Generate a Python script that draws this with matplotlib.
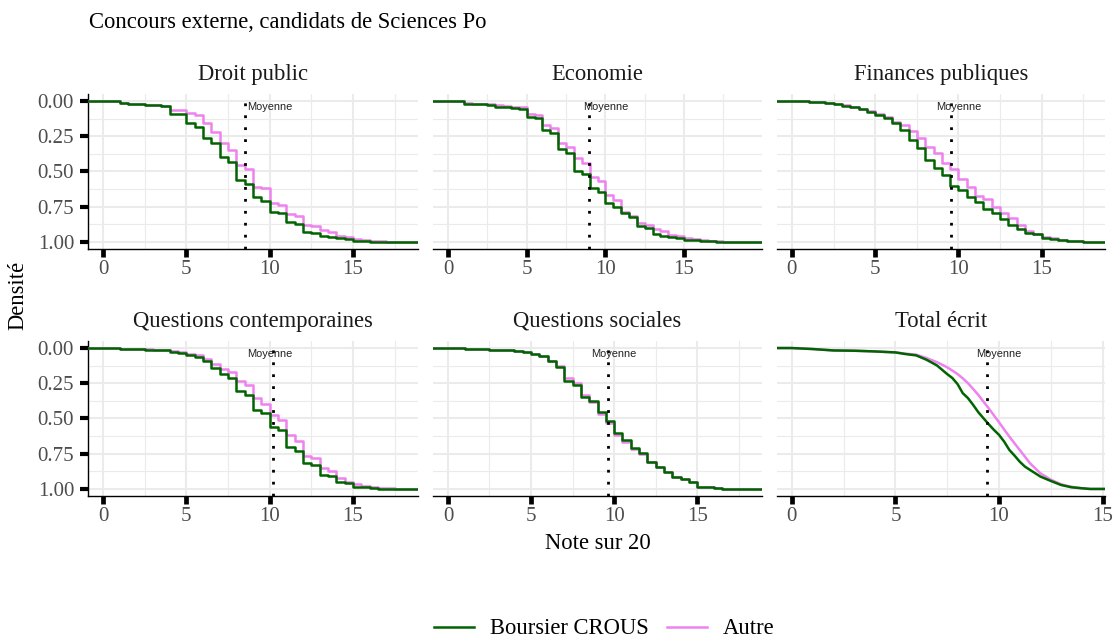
import numpy as np
import matplotlib
matplotlib.use("Agg")
import matplotlib.pyplot as plt
from matplotlib.lines import Line2D

plt.rcParams['font.family'] = ['Liberation Serif', 'DejaVu Serif']

# ---------------- data ----------------
subjects = ["Droit public", "Economie", "Finances publiques",
            "Questions contemporaines", "Questions sociales", "Total écrit"]
series_names = ["Boursier CROUS", "Autre"]
series_colors = ["#006400", "#EE82EE"]

notes = np.arange(0, 18.5, 0.5)  # half-point grades 0 .. 18

droit_boursier = [0.0, 0.002, 0.017, 0.019, 0.022, 0.026, 0.03, 0.034, 0.092, 0.095, 0.154, 0.182,
                  0.265, 0.30, 0.395, 0.43, 0.56, 0.59, 0.683, 0.71, 0.785, 0.797, 0.856, 0.872,
                  0.927, 0.938, 0.955, 0.962, 0.974, 0.979, 0.995, 0.996, 0.998, 0.999, 1.0, 1.0, 1.0]
droit_autre = [0.0, 0.002, 0.017, 0.019, 0.022, 0.025, 0.03, 0.034, 0.062, 0.066, 0.087, 0.10,
               0.158, 0.218, 0.30, 0.348, 0.454, 0.485, 0.61, 0.62, 0.726, 0.74, 0.80, 0.815,
               0.88, 0.89, 0.915, 0.927, 0.955, 0.962, 0.979, 0.983, 0.99, 0.993, 0.997, 0.999, 1.0]

eco_boursier = [0.0, 0.003, 0.021, 0.022, 0.023, 0.025, 0.04, 0.042, 0.052, 0.055, 0.11, 0.123,
                0.205, 0.225, 0.343, 0.366, 0.494, 0.518, 0.62, 0.643, 0.726, 0.749, 0.797, 0.825,
                0.89, 0.903, 0.943, 0.955, 0.967, 0.974, 0.986, 0.988, 0.993, 0.995, 0.997, 0.999, 1.0]
eco_autre = [0.0, 0.003, 0.017, 0.019, 0.021, 0.023, 0.03, 0.033, 0.04, 0.045, 0.092, 0.10,
             0.17, 0.194, 0.30, 0.324, 0.407, 0.437, 0.537, 0.565, 0.667, 0.702, 0.785, 0.816,
             0.868, 0.879, 0.91, 0.92, 0.95, 0.955, 0.974, 0.98, 0.986, 0.99, 0.995, 0.998, 1.0]

fin_boursier = [0.0, 0.003, 0.007, 0.01, 0.017, 0.024, 0.033, 0.045, 0.06, 0.076, 0.10, 0.123,
                0.158, 0.206, 0.277, 0.33, 0.418, 0.478, 0.525, 0.603, 0.631, 0.683, 0.714, 0.768,
                0.797, 0.84, 0.88, 0.91, 0.934, 0.943, 0.969, 0.976, 0.986, 0.99, 0.995, 0.998, 1.0]
fin_autre = [0.0, 0.003, 0.007, 0.01, 0.016, 0.022, 0.03, 0.042, 0.056, 0.07, 0.093, 0.115,
             0.147, 0.17, 0.21, 0.265, 0.324, 0.366, 0.437, 0.485, 0.556, 0.608, 0.674, 0.697,
             0.754, 0.792, 0.832, 0.88, 0.92, 0.943, 0.962, 0.972, 0.986, 0.99, 0.995, 0.998, 1.0]

qc_boursier = [0.0, 0.002, 0.005, 0.007, 0.009, 0.011, 0.013, 0.016, 0.028, 0.035, 0.047, 0.066,
               0.095, 0.142, 0.185, 0.213, 0.308, 0.332, 0.438, 0.462, 0.557, 0.58, 0.70, 0.73,
               0.818, 0.83, 0.90, 0.91, 0.95, 0.957, 0.983, 0.988, 0.995, 0.997, 1.0, 1.0, 1.0]
qc_autre = [0.0, 0.002, 0.004, 0.006, 0.008, 0.01, 0.012, 0.015, 0.02, 0.03, 0.04, 0.052,
            0.076, 0.114, 0.15, 0.17, 0.237, 0.265, 0.355, 0.398, 0.474, 0.51, 0.616, 0.659,
            0.763, 0.777, 0.848, 0.872, 0.924, 0.948, 0.967, 0.976, 0.986, 0.993, 0.995, 1.0, 1.0]

qs_boursier = [0.0, 0.002, 0.005, 0.007, 0.01, 0.011, 0.012, 0.014, 0.019, 0.028, 0.043, 0.059,
               0.095, 0.137, 0.237, 0.26, 0.344, 0.379, 0.455, 0.521, 0.604, 0.652, 0.711, 0.746,
               0.806, 0.841, 0.877, 0.912, 0.929, 0.948, 0.983, 0.988, 0.995, 0.997, 1.0, 1.0, 1.0]
qs_autre = [0.0, 0.002, 0.005, 0.007, 0.01, 0.011, 0.012, 0.014, 0.019, 0.028, 0.043, 0.059,
            0.09, 0.13, 0.21, 0.245, 0.335, 0.385, 0.47, 0.53, 0.62, 0.665, 0.72, 0.755,
            0.812, 0.845, 0.88, 0.912, 0.929, 0.948, 0.983, 0.988, 0.995, 0.997, 1.0, 1.0, 1.0]

total_notes = [0, 1, 2, 3, 4, 5, 5.5, 6, 6.5, 7, 7.25, 7.5, 7.75, 8, 8.25, 8.5, 8.75, 9, 9.25,
               9.5, 9.75, 10, 10.25, 10.5, 10.75, 11, 11.25, 11.5, 12, 12.5, 13, 13.5, 14, 14.4]
total_boursier = [0.0, 0.007, 0.017, 0.019, 0.024, 0.031, 0.043, 0.052, 0.083, 0.123, 0.154, 0.185,
                  0.213, 0.256, 0.32, 0.355, 0.403, 0.455, 0.498, 0.54, 0.58, 0.616, 0.664, 0.723,
                  0.763, 0.806, 0.841, 0.865, 0.912, 0.943, 0.972, 0.988, 0.995, 1.0]
total_autre = [0.0, 0.007, 0.017, 0.019, 0.024, 0.031, 0.04, 0.047, 0.071, 0.10, 0.118, 0.137,
               0.16, 0.185, 0.215, 0.249, 0.29, 0.332, 0.38, 0.427, 0.477, 0.526, 0.578, 0.628,
               0.676, 0.723, 0.77, 0.818, 0.889, 0.934, 0.967, 0.985, 0.995, 1.0]

# data range (min, max) of grades for each subject
x_ranges = [(0, 18), (0, 19), (0, 17.9), (0, 18), (0, 18), (0, 14.4)]
moyennes = [8.54, 8.98, 9.55, 10.18, 9.64, 9.42]
label_x = 10
label_y = 0.045

panel_x = [notes, notes, notes, notes, notes, total_notes]
panel_boursier = [droit_boursier, eco_boursier, fin_boursier, qc_boursier, qs_boursier, total_boursier]
panel_autre = [droit_autre, eco_autre, fin_autre, qc_autre, qs_autre, total_autre]
smooth = [False, False, False, False, False, True]

# ---------------- layout ----------------
W, H = 1113, 638
fig = plt.figure(figsize=(W / 100, H / 100), dpi=100)
col_x = [(88, 418), (433, 762), (777, 1105)]
row_y = [(94, 249), (341, 496)]
strip_baseline = [80, 327]

TXT = 16.3
TICK = 15
TICKCOL = '#4D4D4D'

for i, subj in enumerate(subjects):
    r, c = divmod(i, 3)
    x0, x1 = col_x[c]
    y0, y1 = row_y[r]
    ax = fig.add_axes([x0 / W, 1 - y1 / H, (x1 - x0) / W, (y1 - y0) / H])
    lo, hi = x_ranges[i]
    span = hi - lo
    xl = (lo - 0.05 * span, hi + 0.05 * span)
    ax.set_xlim(*xl)
    ax.set_ylim(1.05, -0.05)

    xs = np.asarray(panel_x[i], dtype=float)
    for vals, col in [(panel_autre[i], series_colors[1]), (panel_boursier[i], series_colors[0])]:
        v = np.asarray(vals, dtype=float)
        xx = np.concatenate([[xl[0]], xs, [xl[1]]])
        yy = np.concatenate([[0.0], v, [v[-1]]])
        if smooth[i]:
            ax.plot(xx, yy, color=col, lw=1.8, zorder=3)
        else:
            ax.step(xx, yy, where='post', color=col, lw=1.8, zorder=3)

    ax.axvline(moyennes[i], color='black', lw=2, linestyle=(0, (1, 3.3)), zorder=4)
    ax.text(label_x, label_y, "Moyenne", ha='center', va='center', fontsize=7.9,
            family='Liberation Sans', color='#222222', zorder=5)

    xt = [t for t in [0, 5, 10, 15, 20] if xl[0] <= t <= xl[1]]
    xm = [t for t in [2.5, 7.5, 12.5, 17.5] if xl[0] <= t <= xl[1]]
    ax.set_xticks(xt)
    ax.set_xticklabels([str(t) for t in xt])
    ax.set_xticks(xm, minor=True)
    ax.set_yticks([0, 0.25, 0.5, 0.75, 1.0])
    ax.set_yticklabels(["0.00", "0.25", "0.50", "0.75", "1.00"])
    ax.set_yticks([0.125, 0.375, 0.625, 0.875], minor=True)

    ax.grid(which='major', color='#EBEBEB', lw=1.45)
    ax.grid(which='minor', color='#EBEBEB', lw=0.8)
    ax.set_axisbelow(True)

    for s in ['top', 'right']:
        ax.spines[s].set_visible(False)
    ax.spines['bottom'].set_color('black')
    ax.spines['bottom'].set_linewidth(1.0)
    ax.tick_params(which='minor', length=0)
    ax.tick_params(axis='x', which='major', length=5.5, width=3.4, color='black',
                   pad=2.5, labelsize=TICK, labelcolor=TICKCOL)
    if c == 0:
        ax.spines['left'].set_color('black')
        ax.spines['left'].set_linewidth(1.0)
        ax.tick_params(axis='y', which='major', length=5.5, width=3.0, color='black',
                       pad=4.5, labelsize=TICK, labelcolor=TICKCOL)
    else:
        ax.spines['left'].set_visible(False)
        ax.tick_params(axis='y', which='major', left=False, labelleft=False)

    ty = 1 + (y0 - strip_baseline[r]) / (y1 - y0)
    ax.text(0.5, ty, subj, transform=ax.transAxes, ha='center', va='baseline',
            fontsize=TXT, color='#1a1a1a')

fig.text(89 / W, 1 - 28 / H, "Concours externe, candidats de Sciences Po",
         ha='left', va='baseline', fontsize=TXT)
fig.text(18 / W, 1 - 295 / H, "Densité", rotation=90, ha='center', va='center', fontsize=TXT)
fig.text(598 / W, 1 - 549 / H, "Note sur 20", ha='center', va='baseline', fontsize=TXT)

handles = [Line2D([], [], color=series_colors[0], lw=1.8),
           Line2D([], [], color=series_colors[1], lw=1.8)]
fig.legend(handles, series_names, loc='center', bbox_to_anchor=(604 / W, 1 - 629 / H),
           ncol=2, frameon=False, fontsize=TXT, handlelength=1.77, handletextpad=0.71,
           columnspacing=0.8, borderpad=0, borderaxespad=0)

fig.savefig("out.png", dpi=100)
